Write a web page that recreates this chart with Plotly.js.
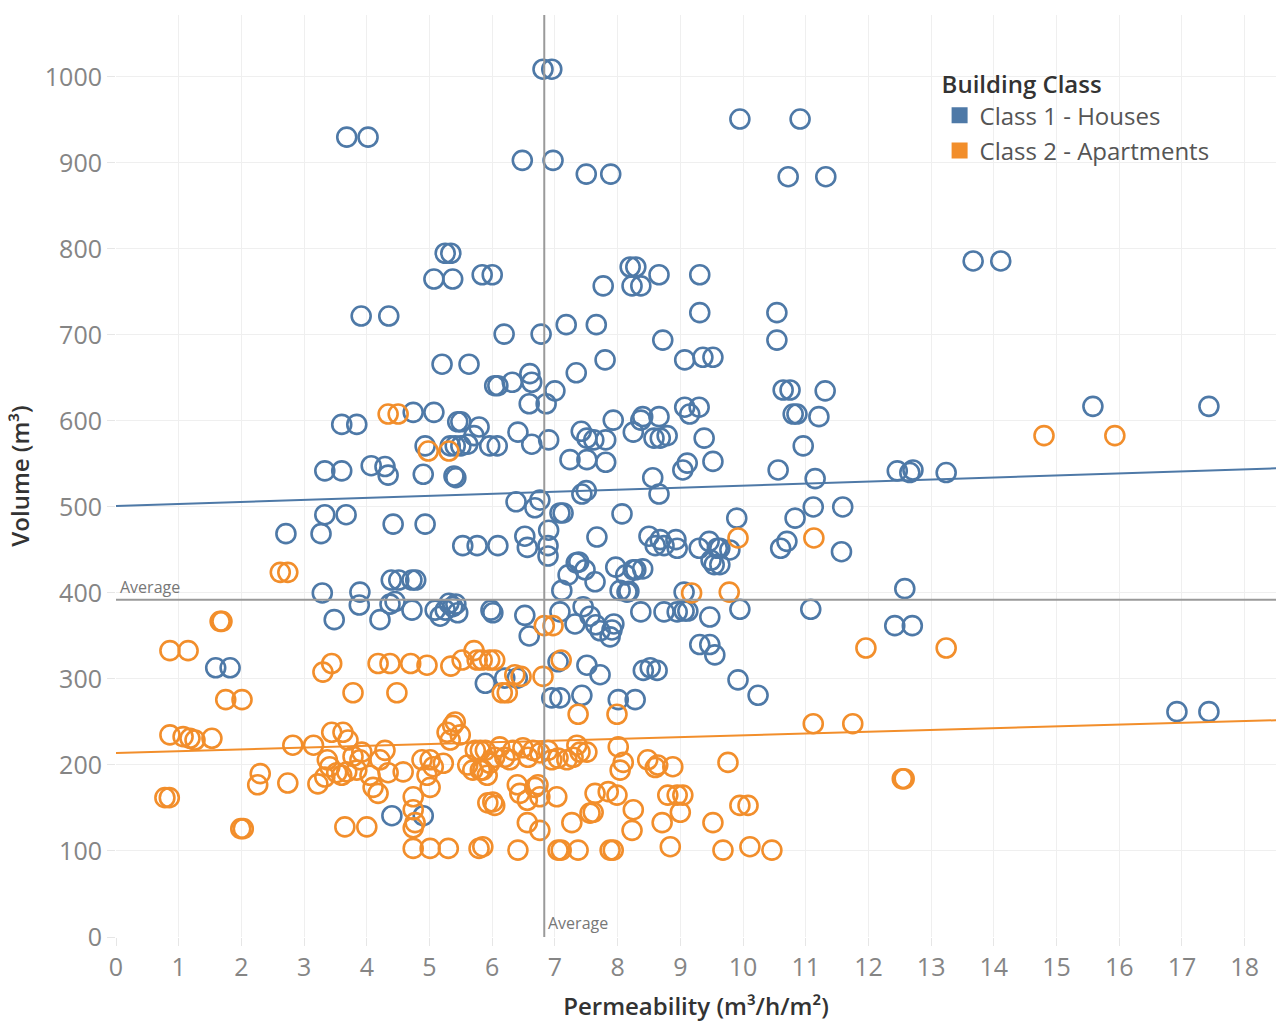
<!DOCTYPE html>
<html>
<head>
<meta charset="utf-8">
<script src="https://cdn.plot.ly/plotly-3.0.1.min.js"></script>
<style>
  html, body { margin: 0; padding: 0; background: #fff; }
  #chart { width: 1276px; height: 1024px; }
</style>
</head>
<body>
<div id="chart"></div>
<script>
// ---- Data ----
const seriesNames = ["Class 1 - Houses", "Class 2 - Apartments"];
const seriesColors = ["#4e79a7", "#f28e2b"];

// Class 1 - Houses: [permeability, volume]
const housesPoints = [
  [6.81,1009],[6.95,1009],[3.68,930],[4.02,930],[9.95,951],[10.91,951],
  [6.48,903],[6.97,903],[7.50,887],[7.89,887],[10.72,884],[11.32,884],
  [5.25,795],[5.34,795],[13.67,786],[14.11,786],[5.07,765],[5.37,765],
  [5.84,770],[6.00,770],[8.20,779],[8.29,779],[8.23,757],[8.37,757],[7.77,757],
  [8.66,770],[9.31,770],[3.91,722],[4.35,722],[9.31,726],[10.54,726],[10.54,694],
  [6.19,701],[6.78,701],[7.18,712],[7.66,712],[8.72,694],[5.20,666],[5.63,666],
  [7.80,671],[9.07,671],[9.36,674],[9.52,674],[7.34,656],
  [6.04,641],[6.09,641],[6.32,645],[6.60,655],[6.63,645],[7.00,635],
  [10.64,636],[10.75,636],[11.31,635],[6.59,620],[6.86,620],[15.58,617],[17.43,617],
  [3.60,596],[3.84,596],[4.74,610],[5.07,610],[5.45,599],[5.50,599],[5.79,593],
  [7.93,601],[8.37,601],[8.40,605],[8.66,605],[9.07,616],[9.30,616],[9.15,608],
  [10.80,608],[10.86,608],[11.21,605],
  [4.93,571],[5.33,571],[5.41,571],[5.50,571],[5.61,573],[5.71,583],
  [5.96,571],[6.08,571],[6.41,587],[6.63,573],[6.90,578],
  [7.42,588],[7.51,580],[7.62,578],[7.81,578],
  [8.25,587],[8.58,580],[8.68,580],[8.79,583],[9.38,580],[10.96,571],
  [3.33,542],[3.60,542],[4.07,548],[4.29,547],[4.34,537],[4.90,538],[5.39,536],[5.42,534],
  [7.24,555],[7.43,515],[7.50,519],[7.51,555],[7.81,552],
  [8.56,534],[8.66,515],[9.04,543],[9.11,551],[9.52,553],[10.56,543],[11.15,533],
  [12.46,542],[12.66,540],[12.71,543],[13.24,540],
  [2.71,469],[3.27,469],[3.33,491],[3.67,491],[4.42,480],[4.93,480],
  [6.38,506],[6.68,499],[6.76,508],[7.08,493],[7.13,493],[8.07,492],
  [9.90,487],[10.83,487],[11.12,500],[11.59,500],
  [5.53,455],[5.76,455],[6.09,455],[6.52,466],[6.56,453],
  [6.90,473],[6.89,455],[6.89,443],[7.34,435],[7.67,465],
  [7.21,421],[7.38,436],[7.48,427],[7.64,413],[7.97,430],
  [8.13,421],[8.25,427],[8.29,427],[8.40,428],
  [8.50,466],[8.60,455],[8.68,462],[8.74,455],[8.93,462],[8.95,452],
  [9.30,452],[9.46,460],[9.59,452],[9.49,438],[9.63,452],[9.79,450],[9.54,433],[9.63,433],
  [10.60,452],[10.70,460],[11.57,448],
  [3.29,400],[3.48,369],[3.89,401],[3.88,386],[4.21,369],
  [4.39,415],[4.51,415],[4.72,415],[4.78,415],[4.37,387],[4.45,390],[4.72,380],
  [5.09,380],[5.17,373],[5.25,380],[5.31,388],[5.37,384],[5.42,387],[5.45,377],
  [5.98,380],[6.01,377],[6.52,374],[6.59,350],
  [7.11,403],[7.08,378],[7.32,364],[7.45,384],[7.56,373],[7.65,363],[7.72,356],
  [7.88,349],[7.91,357],[7.94,364],[8.04,403],[8.15,401],[8.18,402],
  [8.37,378],[8.74,378],[8.95,378],[9.06,379],[9.12,379],[9.06,401],
  [9.47,372],[9.95,381],[11.08,381],[12.58,405],[12.42,362],[12.70,362],
  [7.05,320],[7.51,316],[7.72,305],[8.41,310],[8.52,313],[8.63,310],
  [9.31,340],[9.47,340],[9.55,328],
  [5.89,295],[6.20,301],[6.40,301],[6.95,278],[7.08,278],[7.43,281],
  [8.01,276],[8.28,276],[9.92,299],[10.24,281],
  [1.59,313],[1.82,313],[4.40,141],[4.90,141],[16.92,262],[17.43,262]
];

// Class 2 - Apartments: [permeability, volume]
const apartmentsPoints = [
  [4.34,608],[4.50,608],[4.98,565],[5.31,565],[2.62,424],[2.74,424],
  [1.66,367],[1.69,367],[0.86,333],[1.15,333],[1.75,276],[2.01,276],
  [3.30,308],[3.44,318],[3.78,284],
  [4.18,318],[4.37,318],[4.70,318],[4.96,316],[5.34,315],[5.52,322],[4.48,284],
  [5.71,333],[5.76,322],[5.84,322],[5.96,322],[6.04,322],[6.16,284],[6.24,284],
  [6.36,305],[6.46,303],[6.81,303],[6.83,362],[6.97,362],[7.10,322],
  [7.37,259],[7.99,259],[9.92,464],[11.13,464],[9.78,401],[9.18,400],
  [11.96,336],[13.24,336],[14.80,583],[15.93,583],[11.12,248],[11.75,248],
  [12.54,184],[12.57,184],
  [0.86,235],[1.07,233],[1.18,231],[1.26,229],[1.53,231],[2.82,223],[3.15,223],
  [0.78,162],[0.85,162],[1.99,126],[2.03,126],[2.30,190],[2.26,177],[2.74,179],
  [3.22,178],[3.33,186],[3.44,238],[3.62,238],[3.70,229],
  [3.37,206],[3.41,198],[3.52,191],[3.60,188],[3.68,192],[3.84,194],[3.89,206],
  [3.92,215],[3.78,210],[4.05,188],[4.10,174],[4.21,206],[4.18,167],[4.29,217],
  [4.34,191],[4.58,192],
  [3.65,128],[4.00,128],[4.74,163],[4.74,148],[4.77,133],[4.74,127],
  [4.74,103],[5.01,103],[5.30,103],[5.79,103],
  [5.41,250],[5.37,246],[5.28,238],[5.33,229],[5.49,235],
  [5.01,206],[5.06,198],[5.22,202],[4.88,206],[4.96,188],[5.01,174],
  [5.61,200],[5.69,194],[5.85,194],[5.96,202],[5.93,156],[6.01,157],
  [5.73,217],[5.81,217],[5.89,217],
  [6.04,209],[6.12,221],[6.20,209],[6.28,206],[6.33,217],[6.49,220],[6.57,209],
  [6.65,217],[6.76,214],[6.89,217],[6.95,206],[7.05,208],[7.19,206],[7.29,209],
  [7.35,223],[7.40,215],[7.51,215],[8.01,221],[8.09,203],[8.04,194],[8.48,206],
  [8.60,197],[8.64,200],[8.88,198],[9.76,203],
  [5.81,194],[5.92,188],[6.04,153],[6.40,177],[6.44,167],[6.56,159],[6.68,174],
  [6.73,177],[6.76,163],[7.03,163],[6.56,133],[6.76,124],[7.27,133],[7.64,167],
  [7.85,169],[7.99,165],[7.56,144],[7.61,145],[8.25,148],[8.23,124],[8.71,133],
  [8.80,165],[8.95,165],[9.04,165],[9.00,145],[9.52,133],[9.95,153],[10.08,153],
  [5.85,105],[6.41,101],[7.05,101],[7.10,101],[7.37,101],[7.88,101],[7.93,101],
  [8.84,105],[9.68,101],[10.11,105],[10.46,101]
];

// Trend lines (end points) and reference averages
const trendX = [0, 18.5];
const housesTrendY = [501, 545];
const apartmentsTrendY = [214, 252];
const averagePermeability = 6.83;
const averageVolume = 392;

// Axis ticks
const xTicks = [0,1,2,3,4,5,6,7,8,9,10,11,12,13,14,15,16,17,18];
const yTicks = [0,100,200,300,400,500,600,700,800,900,1000];

// ---- Chart ----
const FONT = "Open Sans, Lato, sans-serif";
const markerStyle = (c) => ({ symbol: "circle-open", size: 19, color: c, line: { width: 2.6, color: c } });

const traces = [
  {
    type: "scatter", mode: "markers", name: seriesNames[0], showlegend: false,
    x: housesPoints.map(p => p[0]), y: housesPoints.map(p => p[1]),
    marker: markerStyle(seriesColors[0]), hoverinfo: "skip"
  },
  {
    type: "scatter", mode: "markers", name: seriesNames[1], showlegend: false,
    x: apartmentsPoints.map(p => p[0]), y: apartmentsPoints.map(p => p[1]),
    marker: markerStyle(seriesColors[1]), hoverinfo: "skip"
  },
  {
    type: "scatter", mode: "lines", showlegend: false, x: trendX, y: housesTrendY,
    line: { color: seriesColors[0], width: 2 }, hoverinfo: "skip"
  },
  {
    type: "scatter", mode: "lines", showlegend: false, x: trendX, y: apartmentsTrendY,
    line: { color: seriesColors[1], width: 2 }, hoverinfo: "skip"
  },
  // legend entries (square swatches)
  {
    type: "scatter", mode: "markers", name: seriesNames[0], x: [null], y: [null], legendgroup: "g1",
    marker: { symbol: "square", size: 16, color: seriesColors[0] }
  },
  {
    type: "scatter", mode: "markers", name: seriesNames[1], x: [null], y: [null], legendgroup: "g2",
    marker: { symbol: "square", size: 16, color: seriesColors[1] }
  }
];

const layout = {
  width: 1276, height: 1024,
  paper_bgcolor: "#ffffff", plot_bgcolor: "#ffffff",
  margin: { l: 116, r: 0, t: 15, b: 87, pad: 0 },
  font: { family: FONT, color: "#555" },
  showlegend: true,
  hovermode: false,
  xaxis: {
    range: [0, 18.5], tickvals: xTicks, ticktext: xTicks.map(String),
    showgrid: true, gridcolor: "#efefef", gridwidth: 1,
    zeroline: false, showline: false,
    ticks: "outside", ticklen: 8, tickcolor: "#e6e6e6",
    tickfont: { family: FONT, size: 25, color: "#858585" },
    title: { text: "Permeability (m³/h/m²)", font: { family: FONT, size: 24, color: "#333", weight: 600 }, standoff: 16 },
    automargin: false
  },
  yaxis: {
    range: [0, 1072], tickvals: yTicks, ticktext: yTicks.map(String),
    showgrid: true, gridcolor: "#efefef", gridwidth: 1,
    zeroline: false, showline: false,
    ticks: "outside", ticklen: 8, tickcolor: "#e6e6e6",
    tickfont: { family: FONT, size: 25, color: "#858585" },
    title: { text: "Volume (m³)", font: { family: FONT, size: 24, color: "#333", weight: 600 }, standoff: 8 },
    automargin: false
  },
  legend: {
    x: 0.71, y: 0.949, xanchor: "left", yanchor: "top",
    bgcolor: "rgba(0,0,0,0)", borderwidth: 0,
    traceorder: "grouped", tracegroupgap: 1,
    title: { text: "Building Class", font: { family: FONT, size: 24, color: "#333", weight: 600 } },
    font: { family: FONT, size: 24, color: "#555" },
    itemwidth: 30
  },
  shapes: [
    { type: "line", xref: "x", yref: "paper", x0: averagePermeability, x1: averagePermeability, y0: 0, y1: 1,
      line: { color: "#9a9a9a", width: 2 }, layer: "above" },
    { type: "line", xref: "paper", yref: "y", x0: 0, x1: 1, y0: averageVolume, y1: averageVolume,
      line: { color: "#9a9a9a", width: 2 }, layer: "above" }
  ],
  annotations: [
    { text: "Average", xref: "paper", yref: "y", x: 0, y: averageVolume, xanchor: "left", yanchor: "bottom",
      xshift: 2, yshift: 0, showarrow: false, font: { family: FONT, size: 16, color: "#777" } },
    { text: "Average", xref: "x", yref: "paper", x: averagePermeability, y: 0, xanchor: "left", yanchor: "bottom",
      xshift: 2, yshift: 1, showarrow: false, font: { family: FONT, size: 16, color: "#777" } }
  ]
};

Plotly.newPlot("chart", traces, layout, { displayModeBar: false, staticPlot: true });
</script>
</body>
</html>
